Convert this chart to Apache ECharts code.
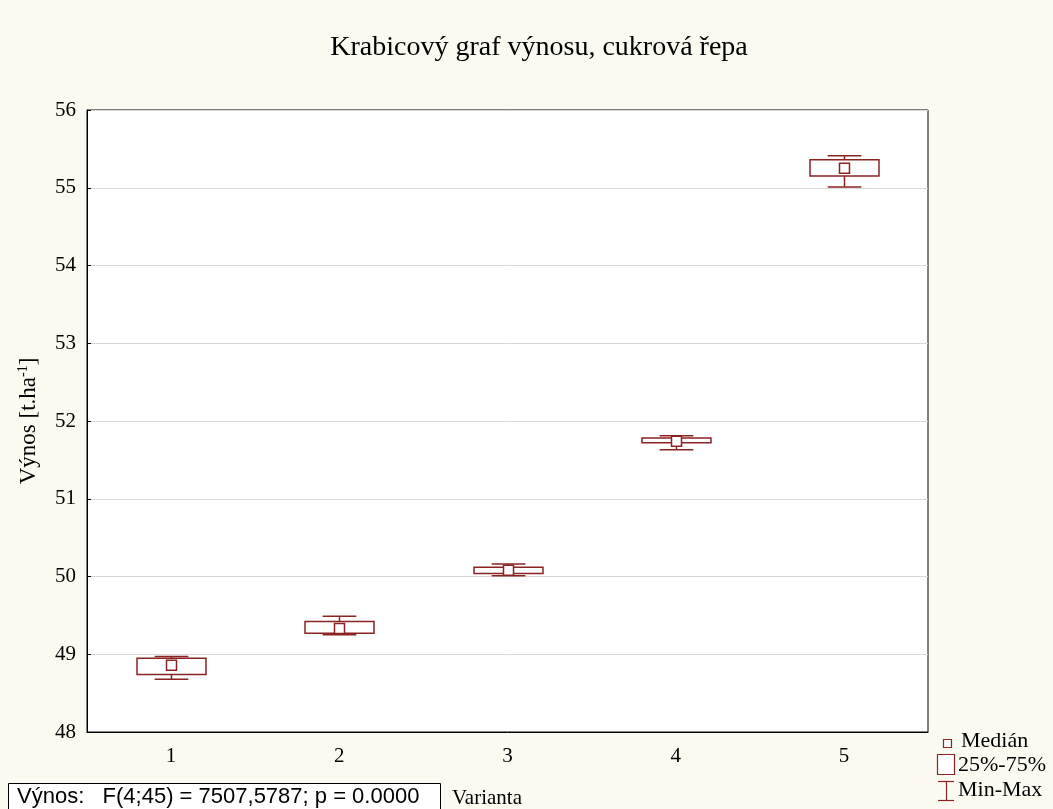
<!DOCTYPE html>
<html>
<head>
<meta charset="utf-8">
<script src="https://cdn.jsdelivr.net/npm/echarts@6/dist/echarts.min.js"></script>
<style>
  html, body { margin: 0; padding: 0; background: #fbfaf1; }
  #chart { width: 1053px; height: 809px; }
</style>
</head>
<body>
<div id="chart"></div>
<script>
// data
var varianty = ['1', '2', '3', '4', '5']
var minVals = [48.68, 49.25, 50.01, 51.63, 55.01]
var q1Vals = [48.74, 49.27, 50.04, 51.72, 55.15]
var medianVals = [48.86, 49.33, 50.08, 51.74, 55.25]
var q3Vals = [48.95, 49.42, 50.12, 51.78, 55.36]
var maxVals = [48.97, 49.49, 50.16, 51.81, 55.41]
var yTicks = [48, 49, 50, 51, 52, 53, 54, 55, 56]

var boxColor = '#8b2323'
var serif = '"Liberation Serif", "DejaVu Serif", serif'

var boxData = varianty.map(function (v, i) {
  return [i, minVals[i], q1Vals[i], medianVals[i], q3Vals[i], maxVals[i]]
})

function renderBox(params, api) {
  var x = api.value(0)
  var pMin = api.coord([x, api.value(1)])
  var pQ1 = api.coord([x, api.value(2)])
  var pMed = api.coord([x, api.value(3)])
  var pQ3 = api.coord([x, api.value(4)])
  var pMax = api.coord([x, api.value(5)])
  var band = api.size([1, 0])[0]
  var boxW = band * 0.41
  var capW = band * 0.2
  var cx = Math.round(pMed[0]) + 0.5
  var line = { stroke: boxColor, lineWidth: 1.5 }
  var sq = 10
  return {
    type: 'group',
    children: [
      { type: 'line', shape: { x1: cx, y1: pQ3[1], x2: cx, y2: pMax[1] }, style: line },
      { type: 'line', shape: { x1: cx, y1: pQ1[1], x2: cx, y2: pMin[1] }, style: line },
      { type: 'line', shape: { x1: cx - capW / 2, y1: pMax[1], x2: cx + capW / 2, y2: pMax[1] }, style: line },
      { type: 'line', shape: { x1: cx - capW / 2, y1: pMin[1], x2: cx + capW / 2, y2: pMin[1] }, style: line },
      {
        type: 'rect',
        shape: { x: cx - boxW / 2, y: pQ3[1], width: boxW, height: pQ1[1] - pQ3[1] },
        style: { fill: '#fff', stroke: boxColor, lineWidth: 1.5 }
      },
      {
        type: 'rect',
        shape: { x: cx - sq / 2, y: pMed[1] - sq / 2, width: sq, height: sq },
        style: { fill: '#fff', stroke: boxColor, lineWidth: 1.5 }
      }
    ]
  }
}

var chart = echarts.init(document.getElementById('chart'))
chart.setOption({
  backgroundColor: '#fbfaf1',
  animation: false,
  title: {
    text: 'Krabicový graf výnosu, cukrová řepa',
    left: 534,
    top: 29,
    textAlign: 'center',
    textStyle: { fontFamily: serif, fontSize: 28, fontWeight: 'normal', color: '#000' }
  },
  grid: {
    left: 87,
    top: 110,
    right: 125,
    bottom: 77,
    show: true,
    backgroundColor: '#fff',
    borderColor: '#000',
    borderWidth: 1
  },
  xAxis: {
    type: 'category',
    data: varianty,
    boundaryGap: true,
    axisLine: { lineStyle: { color: '#000', width: 1 } },
    axisTick: { inside: true, alignWithLabel: true, length: 5, lineStyle: { color: '#000' } },
    axisLabel: { margin: 14, fontFamily: serif, fontSize: 21, color: '#000' },
    splitLine: { show: false }
  },
  yAxis: {
    type: 'value',
    min: yTicks[0],
    max: yTicks[yTicks.length - 1],
    interval: 1,
    name: '{n|Výnos [t.ha}{s|-1}{n|]}',
    nameLocation: 'middle',
    nameGap: 46,
    nameRotate: 90,
    nameTextStyle: {
      rich: {
        n: { fontFamily: serif, fontSize: 23, color: '#000' },
        s: { fontFamily: serif, fontSize: 14, color: '#000', padding: [0, 0, 11, 0] }
      }
    },
    axisLine: { show: true, lineStyle: { color: '#000' } },
    axisTick: { show: true, inside: true, length: 4, lineStyle: { color: '#000' } },
    axisLabel: { margin: 11, fontFamily: serif, fontSize: 21, color: '#000' },
    splitLine: { show: true, lineStyle: { color: '#d8d8d8', width: 1 } }
  },
  series: [{
    type: 'custom',
    renderItem: renderBox,
    encode: { x: 0, y: [1, 2, 3, 4, 5] },
    data: boxData
  }],
  graphic: [
    // statistics box
    {
      type: 'rect',
      shape: { x: 8.5, y: 783.5, width: 432, height: 30 },
      style: { fill: '#fff', stroke: '#000', lineWidth: 1 }
    },
    {
      type: 'text',
      x: 17, y: 797,
      style: {
        text: 'Výnos:   F(4;45) = 7507,5787; p = 0.0000',
        fontFamily: '"Liberation Sans", Arial, sans-serif',
        fontSize: 22, fill: '#000', verticalAlign: 'middle'
      }
    },
    {
      type: 'text',
      x: 452, y: 798,
      style: { text: 'Varianta', fontFamily: serif, fontSize: 21, fill: '#000', verticalAlign: 'middle' }
    },
    // legend
    {
      type: 'rect',
      shape: { x: 943.5, y: 739.5, width: 8, height: 8 },
      style: { fill: '#fff', stroke: boxColor, lineWidth: 1.2 }
    },
    {
      type: 'text', x: 961, y: 741,
      style: { text: 'Medián', fontFamily: serif, fontSize: 22, fill: '#000', verticalAlign: 'middle' }
    },
    {
      type: 'rect',
      shape: { x: 937.5, y: 754.5, width: 17, height: 20 },
      style: { fill: '#fff', stroke: boxColor, lineWidth: 1.2 }
    },
    {
      type: 'text', x: 958, y: 765,
      style: { text: '25%-75%', fontFamily: serif, fontSize: 22, fill: '#000', verticalAlign: 'middle' }
    },
    {
      type: 'polyline',
      shape: { points: [[938, 781.5], [954, 781.5]] },
      style: { stroke: boxColor, lineWidth: 1.2 }
    },
    {
      type: 'polyline',
      shape: { points: [[946.5, 781.5], [946.5, 800.5]] },
      style: { stroke: boxColor, lineWidth: 1.2 }
    },
    {
      type: 'polyline',
      shape: { points: [[938, 800.5], [954, 800.5]] },
      style: { stroke: boxColor, lineWidth: 1.2 }
    },
    {
      type: 'text', x: 958, y: 790,
      style: { text: 'Min-Max', fontFamily: serif, fontSize: 22, fill: '#000', verticalAlign: 'middle' }
    }
  ]
})
</script>
</body>
</html>
